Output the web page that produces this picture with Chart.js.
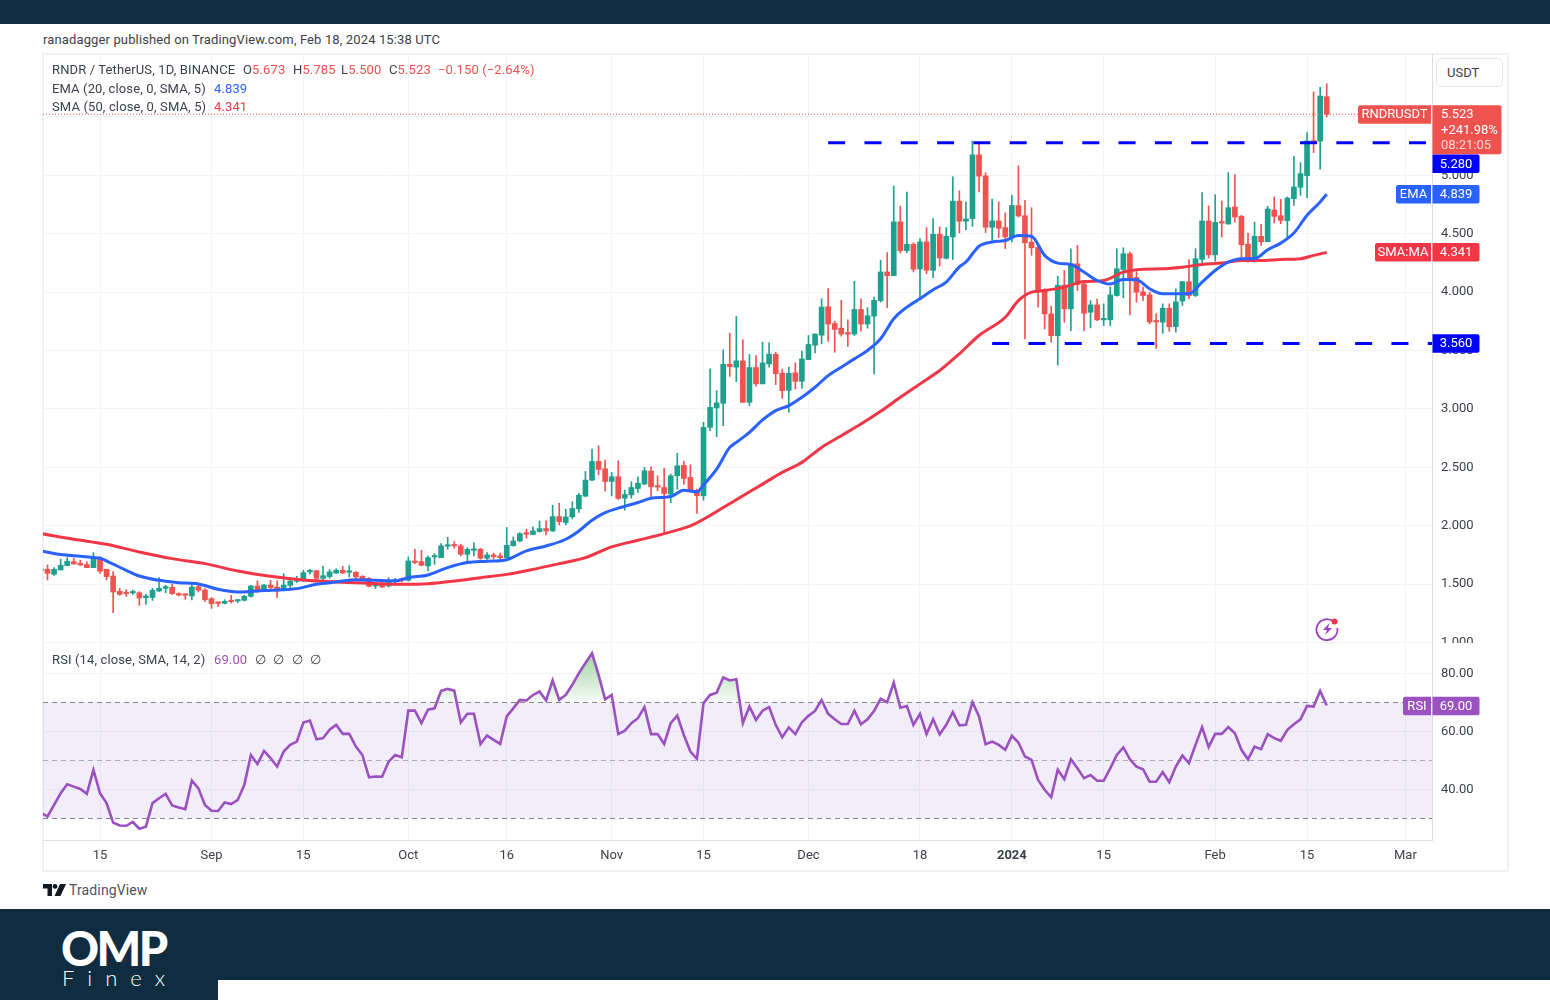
<!DOCTYPE html>
<html>
<head>
<meta charset="utf-8">
<title>RNDR / TetherUS</title>
<script src="https://cdn.jsdelivr.net/npm/chart.js@4/dist/chart.umd.js"></script>
<style>
  html, body { margin: 0; padding: 0; background: #fff; }
  body { width: 1550px; height: 1000px; position: relative; overflow: hidden; font: 13px Roboto, sans-serif; color: #3b3f4a; }
  .abs { position: absolute; white-space: nowrap; line-height: 16px; letter-spacing: 0.13px; }
  #topBar { position: absolute; left: 0; top: 0; width: 1550px; height: 24px; background: #0f2c40; }
  #footBar { position: absolute; left: 0; top: 909px; width: 1550px; height: 91px; background: #0f2c40; }
  #footCut { position: absolute; left: 218px; top: 980px; width: 1332px; height: 20px; background: #fff; }
  #frame { position: absolute; left: 42px; top: 53px; width: 1463px; height: 815px; border: 2px solid #eff1f5; }
  canvas { position: absolute; display: block; }
  #priceChart { left: 43px; top: 54px; }
  #rsiChart { left: 43px; top: 643px; }
  #usdt { position: absolute; left: 1436px; top: 58px; width: 65px; height: 27px; border: 1.5px solid #e6e8ee; border-radius: 5px; background: #fff; line-height: 27px; text-indent: 10px; box-sizing: content-box; }
  .up { color: #ef5350; }
  .logoBig { position: absolute; left: 61px; top: 923px; color: #fff; font: 900 47px/50px Lato, sans-serif; letter-spacing: -2.6px; }
  .logoSmall { position: absolute; left: 62px; top: 965px; color: #fff; font: 300 22px/26px Lato, sans-serif; letter-spacing: 13px; }
</style>
</head>
<body>
<div id="topBar"></div>
<div class="abs" style="left:43px;top:32px">ranadagger published on TradingView.com, Feb 18, 2024 15:38 UTC</div>
<div id="frame"></div>
<canvas id="priceChart" width="1464" height="589" style="width:1464px;height:589px"></canvas>
<canvas id="rsiChart" width="1464" height="227" style="width:1464px;height:227px"></canvas>
<div id="usdt">USDT</div>

<div class="abs" style="left:52px;top:62px">RNDR / TetherUS, 1D, BINANCE</div>
<div class="abs" style="left:243px;top:62px">O<span class="up">5.673</span></div>
<div class="abs" style="left:293px;top:62px">H<span class="up">5.785</span></div>
<div class="abs" style="left:341px;top:62px">L<span class="up">5.500</span></div>
<div class="abs" style="left:389px;top:62px">C<span class="up">5.523</span></div>
<div class="abs up" style="left:438px;top:62px">−0.150 (−2.64%)</div>
<div class="abs" style="left:52px;top:81px">EMA (20, close, 0, SMA, 5)</div>
<div class="abs" style="left:214px;top:81px;color:#2962ff">4.839</div>
<div class="abs" style="left:52px;top:99px">SMA (50, close, 0, SMA, 5)</div>
<div class="abs" style="left:214px;top:99px;color:#f23645">4.341</div>
<div class="abs" style="left:52px;top:652px">RSI (14, close, SMA, 14, 2)</div>
<div class="abs" style="left:214px;top:652px;color:#9b51c0">69.00</div>
<div class="abs" style="left:255px;top:652px;word-spacing:4px">∅ ∅ ∅ ∅</div>

<svg class="abs" style="left:1314px;top:615px" width="28" height="28" viewBox="0 0 28 28">
  <path d="M19.5 6.5 A10.5 10.5 0 1 0 23.3 13" fill="none" stroke="#9b3fc0" stroke-width="1.8"/>
  <path d="M15.5 8 L9 15 L13 15 L11 20 L18 13 L14 13 Z" fill="#9b3fc0"/>
  <circle cx="20.5" cy="6.5" r="3" fill="#f23645"/>
</svg>

<svg class="abs" style="left:43px;top:884px" width="23" height="12" viewBox="0 0 23 12">
  <path d="M0 0 H9 V12 H4.5 V4.5 H0 Z" fill="#131722"/>
  <circle cx="12" cy="2.4" r="2.4" fill="#131722"/>
  <path d="M17 0 H23 L17.5 12 H11.5 Z" fill="#131722"/>
</svg>
<div class="abs" style="left:69px;top:882px;font-size:14px;color:#50535e">TradingView</div>

<div id="footBar"></div>
<div id="footCut"></div>
<div class="logoBig">OMP</div>
<div class="logoSmall">Finex</div>

<script>
// candles, day 0 = Aug 6 2023
const opens = [
  1.630, 1.628, 1.585, 1.622, 1.659, 1.693, 1.679, 1.668, 1.642, 1.722, 1.628, 1.570, 1.439, 1.427, 1.425, 1.427, 1.385, 1.387, 1.442, 1.465,
  1.473, 1.419, 1.410, 1.399, 1.479, 1.450, 1.376, 1.342, 1.336, 1.362, 1.356, 1.362, 1.396, 1.485, 1.448, 1.493, 1.476, 1.448, 1.490, 1.525,
  1.528, 1.605, 1.616, 1.550, 1.565, 1.596, 1.619, 1.602, 1.602, 1.568, 1.548, 1.485, 1.508, 1.485, 1.525, 1.542, 1.533, 1.693, 1.693, 1.656,
  1.733, 1.727, 1.825, 1.836, 1.828, 1.756, 1.790, 1.799, 1.722, 1.750, 1.742, 1.727, 1.830, 1.870, 1.936, 1.925, 1.951, 1.976, 1.956, 2.079,
  2.028, 2.076, 2.145, 2.254, 2.391, 2.551, 2.488, 2.379, 2.420, 2.236, 2.265, 2.319, 2.357, 2.468, 2.339, 2.328, 2.271, 2.428, 2.517, 2.414,
  2.299, 2.257, 2.843, 3.009, 3.049, 3.383, 3.358, 3.412, 3.057, 3.355, 3.215, 3.386, 3.469, 3.306, 3.160, 3.309, 3.237, 3.423, 3.546, 3.632,
  3.875, 3.732, 3.692, 3.646, 3.641, 3.852, 3.727, 3.795, 3.927, 4.173, 4.141, 4.602, 4.356, 4.410, 4.198, 4.430, 4.187, 4.496, 4.290, 4.473,
  4.779, 4.607, 4.630, 5.176, 4.996, 4.556, 4.610, 4.553, 4.473, 4.741, 4.655, 4.429, 4.383, 4.020, 3.814, 3.628, 4.060, 3.857, 4.243, 4.071,
  3.828, 3.891, 3.763, 3.763, 3.971, 4.194, 4.329, 4.126, 4.003, 3.977, 3.754, 3.743, 3.863, 3.705, 3.923, 4.089, 3.971, 4.280, 4.609, 4.320,
  4.600, 4.583, 4.729, 4.649, 4.412, 4.263, 4.478, 4.432, 4.703, 4.655, 4.612, 4.801, 4.898, 4.998, 5.293, 5.293, 5.673
];
const highs = [
  1.650, 1.665, 1.642, 1.714, 1.728, 1.722, 1.705, 1.691, 1.771, 1.734, 1.628, 1.608, 1.465, 1.453, 1.450, 1.436, 1.413, 1.465, 1.556, 1.490,
  1.499, 1.427, 1.419, 1.499, 1.499, 1.462, 1.385, 1.347, 1.367, 1.405, 1.367, 1.405, 1.490, 1.528, 1.499, 1.533, 1.528, 1.591, 1.556, 1.568,
  1.619, 1.628, 1.619, 1.656, 1.625, 1.631, 1.653, 1.659, 1.608, 1.573, 1.556, 1.513, 1.519, 1.556, 1.550, 1.553, 1.733, 1.799, 1.790, 1.742,
  1.762, 1.848, 1.902, 1.865, 1.842, 1.813, 1.856, 1.807, 1.770, 1.767, 1.767, 1.985, 1.905, 1.942, 1.971, 1.991, 2.042, 2.042, 2.176, 2.194,
  2.142, 2.205, 2.277, 2.465, 2.657, 2.686, 2.563, 2.457, 2.557, 2.305, 2.377, 2.420, 2.500, 2.505, 2.428, 2.491, 2.442, 2.620, 2.551, 2.522,
  2.314, 2.886, 3.343, 3.157, 3.506, 3.649, 3.792, 3.592, 3.466, 3.458, 3.572, 3.566, 3.486, 3.343, 3.358, 3.395, 3.495, 3.629, 3.644, 3.944,
  4.030, 3.752, 3.930, 3.764, 4.093, 3.944, 3.867, 3.958, 4.273, 4.339, 4.908, 4.736, 4.856, 4.422, 4.459, 4.553, 4.630, 4.559, 4.553, 4.988,
  4.868, 4.773, 5.294, 5.268, 5.022, 4.796, 4.773, 4.679, 4.830, 5.081, 4.786, 4.723, 4.415, 4.029, 3.880, 4.137, 4.186, 4.372, 4.400, 4.100,
  3.928, 3.940, 3.900, 4.043, 4.372, 4.380, 4.343, 4.177, 4.043, 4.000, 3.814, 3.900, 3.900, 4.029, 4.091, 4.280, 4.372, 4.852, 4.738, 4.835,
  4.781, 5.024, 5.007, 4.658, 4.506, 4.600, 4.580, 4.735, 4.815, 4.795, 4.815, 5.164, 5.110, 5.367, 5.716, 5.753, 5.785
];
const lows = [
  1.600, 1.536, 1.576, 1.622, 1.659, 1.671, 1.659, 1.642, 1.642, 1.593, 1.536, 1.256, 1.405, 1.396, 1.413, 1.319, 1.327, 1.362, 1.436, 1.427,
  1.413, 1.399, 1.370, 1.365, 1.433, 1.350, 1.293, 1.310, 1.330, 1.339, 1.342, 1.356, 1.390, 1.430, 1.442, 1.448, 1.385, 1.442, 1.465, 1.513,
  1.522, 1.585, 1.528, 1.533, 1.550, 1.591, 1.591, 1.562, 1.542, 1.533, 1.476, 1.462, 1.470, 1.476, 1.510, 1.519, 1.527, 1.676, 1.656, 1.613,
  1.670, 1.727, 1.799, 1.807, 1.742, 1.699, 1.742, 1.713, 1.713, 1.716, 1.716, 1.722, 1.825, 1.865, 1.893, 1.922, 1.945, 1.922, 1.951, 2.008,
  2.008, 2.059, 2.114, 2.248, 2.385, 2.437, 2.299, 2.257, 2.225, 2.134, 2.236, 2.285, 2.351, 2.248, 2.299, 1.942, 2.199, 2.314, 2.357, 2.291,
  2.105, 2.219, 2.814, 2.763, 2.857, 3.280, 3.235, 3.057, 3.029, 3.195, 3.215, 3.358, 3.209, 3.092, 2.972, 3.172, 3.177, 3.421, 3.481, 3.558,
  3.578, 3.486, 3.624, 3.535, 3.629, 3.667, 3.692, 3.300, 3.915, 3.867, 4.141, 4.336, 4.339, 4.173, 3.938, 4.158, 4.124, 4.224, 4.284, 4.281,
  4.507, 4.536, 4.564, 4.859, 4.510, 4.444, 4.467, 4.373, 4.430, 4.643, 3.600, 4.315, 3.871, 3.685, 3.571, 3.376, 3.743, 3.671, 4.014, 3.671,
  3.694, 3.757, 3.714, 3.714, 3.966, 3.951, 3.808, 3.914, 3.928, 3.728, 3.519, 3.648, 3.665, 3.657, 3.886, 3.943, 3.963, 4.249, 4.292, 4.266,
  4.472, 4.583, 4.600, 4.300, 4.257, 4.257, 4.400, 4.432, 4.592, 4.586, 4.457, 4.743, 4.829, 4.809, 5.195, 5.052, 5.500
];
const closes = [
  1.615, 1.593, 1.628, 1.662, 1.696, 1.673, 1.665, 1.642, 1.728, 1.611, 1.565, 1.433, 1.413, 1.419, 1.436, 1.382, 1.399, 1.448, 1.465, 1.479,
  1.419, 1.407, 1.405, 1.476, 1.448, 1.367, 1.333, 1.336, 1.353, 1.350, 1.362, 1.396, 1.485, 1.442, 1.493, 1.470, 1.442, 1.493, 1.528, 1.533,
  1.599, 1.619, 1.550, 1.573, 1.605, 1.619, 1.596, 1.608, 1.562, 1.545, 1.482, 1.499, 1.476, 1.528, 1.536, 1.533, 1.699, 1.685, 1.662, 1.727,
  1.742, 1.828, 1.833, 1.828, 1.756, 1.799, 1.799, 1.722, 1.750, 1.736, 1.727, 1.833, 1.870, 1.933, 1.928, 1.956, 1.976, 1.956, 2.079, 2.036,
  2.076, 2.148, 2.262, 2.391, 2.551, 2.482, 2.379, 2.420, 2.234, 2.268, 2.328, 2.365, 2.471, 2.334, 2.331, 2.277, 2.428, 2.514, 2.405, 2.294,
  2.257, 2.843, 3.014, 3.052, 3.383, 3.363, 3.412, 3.057, 3.355, 3.215, 3.395, 3.469, 3.303, 3.157, 3.306, 3.237, 3.429, 3.552, 3.641, 3.872,
  3.727, 3.681, 3.641, 3.641, 3.852, 3.727, 3.798, 3.930, 4.173, 4.141, 4.602, 4.356, 4.410, 4.196, 4.430, 4.187, 4.496, 4.293, 4.479, 4.779,
  4.607, 4.627, 5.176, 4.993, 4.556, 4.610, 4.547, 4.473, 4.742, 4.652, 4.423, 4.380, 4.008, 3.814, 3.628, 4.060, 3.857, 4.243, 4.066, 3.820,
  3.891, 3.763, 3.768, 3.977, 4.200, 4.329, 4.114, 4.000, 3.971, 3.745, 3.745, 3.863, 3.705, 3.917, 4.091, 3.971, 4.286, 4.609, 4.320, 4.598,
  4.592, 4.723, 4.643, 4.406, 4.263, 4.478, 4.432, 4.712, 4.649, 4.615, 4.806, 4.901, 5.015, 5.295, 5.284, 5.679, 5.523
];

// moving averages, read every few days
const emaDays = [
  0, 3, 6, 8, 9, 11, 13, 15, 18, 21, 24, 27, 30, 33, 36, 39, 42, 45, 48, 51,
  54, 56, 59, 62, 65, 68, 71, 74, 77, 80, 82, 84, 86, 88, 91, 93, 96, 98, 100, 101,
  103, 105, 106, 108, 110, 112, 114, 116, 118, 120, 122, 124, 126, 128, 130, 132, 134, 136, 138, 140,
  141, 143, 145, 147, 149, 151, 153, 155, 157, 159, 161, 163, 165, 167, 169, 171, 173, 175, 177, 179,
  181, 183, 185, 187, 189, 191, 193, 195, 196
];
const emaValues = [
  1.785, 1.754, 1.739, 1.728, 1.722, 1.671, 1.619, 1.570, 1.533, 1.513, 1.502, 1.456, 1.433, 1.442, 1.450, 1.462, 1.499, 1.519, 1.539, 1.533,
  1.528, 1.556, 1.579, 1.642, 1.685, 1.696, 1.710, 1.785, 1.827, 1.885, 1.956, 2.048, 2.113, 2.151, 2.199, 2.236, 2.251, 2.305, 2.291, 2.350,
  2.485, 2.671, 2.714, 2.800, 2.906, 2.986, 3.029, 3.100, 3.186, 3.286, 3.358, 3.429, 3.501, 3.601, 3.772, 3.872, 3.944, 4.021, 4.087, 4.216,
  4.258, 4.393, 4.430, 4.443, 4.486, 4.478, 4.315, 4.249, 4.237, 4.172, 4.100, 4.070, 4.109, 4.106, 4.029, 3.986, 3.986, 3.986, 4.086, 4.186,
  4.257, 4.286, 4.286, 4.363, 4.420, 4.506, 4.658, 4.772, 4.839
];
const smaDays = [0, 5, 10, 15, 20, 25, 30, 35, 40, 45, 50, 55, 59, 63, 67, 71, 75, 79, 83, 87, 91, 95, 99, 101, 104, 107, 110, 113, 116, 119, 122, 125, 128, 131, 134, 137, 140, 143, 147, 149, 151, 153, 156, 159, 162, 165, 168, 171, 174, 177, 180, 183, 186, 189, 192, 194, 196];
const smaValues = [1.934, 1.885, 1.842, 1.776, 1.719, 1.676, 1.613, 1.568, 1.536, 1.519, 1.508, 1.499, 1.504, 1.527, 1.556, 1.584, 1.627, 1.676, 1.727, 1.819, 1.876, 1.933, 1.999, 2.056, 2.156, 2.257, 2.357, 2.457, 2.543, 2.671, 2.771, 2.871, 2.980, 3.100, 3.215, 3.329, 3.472, 3.629, 3.785, 3.928, 4.000, 4.014, 4.043, 4.091, 4.100, 4.172, 4.197, 4.200, 4.214, 4.237, 4.249, 4.272, 4.272, 4.280, 4.286, 4.315, 4.341];

const rsiValues = [
  32.0, 30.7, 34.7, 38.7, 41.8, 41.0, 40.2, 38.5, 46.8, 38.7, 35.3, 28.6, 27.6, 27.5, 28.8, 26.5, 27.2, 35.3, 37.0, 38.5,
  34.5, 33.8, 33.2, 43.1, 40.4, 34.7, 32.7, 32.6, 35.5, 35.0, 36.4, 41.6, 51.9, 48.8, 53.3, 50.8, 47.9, 53.1, 55.4, 56.5,
  63.1, 63.8, 57.3, 57.7, 60.6, 62.3, 59.2, 59.2, 54.8, 51.9, 44.2, 44.5, 44.4, 49.6, 51.9, 51.1, 67.2, 67.2, 62.9, 67.5,
  68.0, 74.0, 74.7, 74.1, 63.1, 66.1, 66.1, 55.7, 58.6, 57.1, 55.7, 65.2, 68.0, 70.9, 70.7, 72.6, 73.8, 70.7, 77.6, 70.9,
  72.6, 76.1, 80.1, 83.6, 87.0, 79.5, 71.1, 72.6, 59.1, 60.3, 62.9, 64.6, 68.4, 59.1, 59.1, 55.7, 62.9, 65.5, 58.8, 53.1,
  50.6, 69.8, 72.6, 73.4, 78.6, 77.6, 78.0, 62.9, 68.6, 64.0, 67.2, 68.4, 62.3, 58.0, 61.4, 59.1, 63.2, 65.4, 67.1, 70.9,
  66.1, 64.2, 62.6, 62.6, 67.2, 62.5, 64.2, 67.1, 71.3, 70.1, 76.9, 68.2, 68.8, 62.3, 66.1, 59.1, 64.2, 59.0, 62.3, 66.7,
  62.1, 62.3, 70.1, 65.2, 55.6, 56.5, 55.4, 53.7, 58.5, 56.2, 51.4, 50.2, 43.3, 39.9, 37.3, 46.8, 43.6, 50.4, 47.3, 43.9,
  45.0, 43.0, 43.0, 47.3, 51.9, 54.5, 50.4, 47.9, 47.0, 42.7, 42.7, 46.0, 42.5, 47.9, 51.7, 49.1, 55.4, 61.5, 54.6, 59.2,
  59.2, 61.5, 59.4, 53.7, 50.4, 54.8, 53.9, 59.1, 57.7, 56.8, 60.6, 62.5, 64.2, 68.8, 68.6, 74.0, 69.0
];

const xTickDays   = [9, 26, 40, 56, 71, 87, 101, 117, 134, 148, 162, 179, 193, 208];
const xTickLabels = ['15', 'Sep', '15', 'Oct', '16', 'Nov', '15', 'Dec', '18', '2024', '15', 'Feb', '15', 'Mar'];
const priceTicks  = [1, 1.5, 2, 2.5, 3, 3.5, 4, 4.5, 5, 5.5];
const rsiTicks    = [40, 60, 80];
const rsiLevels   = [70, 50, 30];

const resistance = 5.28, support = 3.56;
const lastClose = 5.523, lastEma = 4.839, lastSma = 4.341, lastRsi = 69.0;
const changeText = '+241.98%', countdownText = '08:21:05';

const GREEN = '#1fa08f', RED = '#ef5350', BLUE = '#2962ff', MA_RED = '#f23645', LEVEL_BLUE = '#0000ff', PURPLE = '#9b51c0';
const GRID = '#f2f4f8', AXIS_LINE = '#dcdfe6', TEXT = '#3b3f4a';
const FONT = { family: 'Roboto, sans-serif', size: 13 };
const X_MIN = 0.31, X_MAX = 212.05;
const days = opens.map((_, i) => i);
const candleColor = ctx => closes[ctx.dataIndex] >= opens[ctx.dataIndex] ? GREEN : RED;

function xScale(showLabels) {
  return {
    type: 'linear', min: X_MIN, max: X_MAX, offset: false,
    afterBuildTicks: s => { s.ticks = xTickDays.map(v => ({ value: v })); },
    afterFit: s => { s.height = showLabels ? 30 : 0; s.paddingLeft = 0; s.paddingRight = 0; },
    grid: { color: GRID, drawTicks: false, offset: false },
    border: { display: showLabels, color: AXIS_LINE },
    ticks: {
      display: showLabels, autoSkip: false, maxRotation: 0, padding: 8, color: TEXT,
      font: ctx => ctx.tick && xTickLabels[xTickDays.indexOf(ctx.tick.value)] === '2024' ? { ...FONT, weight: 'bold' } : FONT,
      callback: v => xTickLabels[xTickDays.indexOf(v)]
    }
  };
}

function yScale(min, max, tickList, format) {
  return {
    position: 'right', min, max,
    afterBuildTicks: s => { s.ticks = tickList.map(v => ({ value: v })); },
    afterFit: s => { s.width = 75; s.paddingTop = 0; s.paddingBottom = 0; },
    grid: { color: GRID, drawTicks: false },
    border: { color: AXIS_LINE },
    ticks: { color: TEXT, font: FONT, padding: 9, callback: format }
  };
}

function drawTag(ctx, x, y, w, h, color, text, radii) {
  ctx.fillStyle = color;
  ctx.beginPath();
  ctx.roundRect(x, y, w, h, radii);
  ctx.fill();
  ctx.fillStyle = '#fff';
  ctx.font = '13px Roboto, sans-serif';
  ctx.textBaseline = 'middle';
  ctx.textAlign = 'center';
  ctx.fillText(text, x + w / 2, y + h / 2 + 0.5);
}

// name + value tag pair at the axis
function axisTag(ctx, axisX, centerY, name, nameW, value, color) {
  if (name) drawTag(ctx, axisX - nameW - 1, centerY - 9.25, nameW, 18.5, color, name, [2, 0, 0, 2]);
  drawTag(ctx, axisX + 0.5, centerY - 9.25, 47, 18.5, color, value, [0, 2, 2, 0]);
}

const priceTags = {
  id: 'priceTags',
  afterDraw(chart) {
    const { ctx, scales: { y } } = chart;
    const ax = y.left;
    const top = y.getPixelForValue(lastClose) - 9;
    ctx.save();
    drawTag(ctx, ax - 74, top, 73, 18.5, RED, 'RNDRUSDT', [2, 0, 0, 2]);
    ctx.fillStyle = RED;
    ctx.beginPath();
    ctx.roundRect(ax + 0.5, top, 69, 49, [0, 2, 2, 0]);
    ctx.fill();
    ctx.font = '13px Roboto, sans-serif';
    ctx.textBaseline = 'middle';
    ctx.textAlign = 'left';
    ctx.fillStyle = '#fff';
    ctx.fillText(lastClose.toFixed(3), ax + 9, top + 9.5);
    ctx.fillText(changeText, ax + 9, top + 25);
    ctx.fillStyle = '#fbd5d4';
    ctx.fillText(countdownText, ax + 9, top + 40.5);
    axisTag(ctx, ax, top + 58.5, null, 0, resistance.toFixed(3), LEVEL_BLUE);
    axisTag(ctx, ax, y.getPixelForValue(lastEma), 'EMA', 35, lastEma.toFixed(3), BLUE);
    axisTag(ctx, ax, y.getPixelForValue(lastSma), 'SMA:MA', 56, lastSma.toFixed(3), MA_RED);
    axisTag(ctx, ax, y.getPixelForValue(support), null, 0, support.toFixed(3), LEVEL_BLUE);
    ctx.restore();
  }
};

const rsiTags = {
  id: 'rsiTags',
  afterDraw(chart) {
    const { ctx, scales: { y } } = chart;
    ctx.save();
    axisTag(ctx, y.left, y.getPixelForValue(lastRsi) + 0.5, 'RSI', 28, lastRsi.toFixed(2), PURPLE);
    ctx.restore();
  }
};

const baseOptions = {
  responsive: false, animation: false, devicePixelRatio: 1,
  layout: { padding: 0 },
  plugins: { legend: { display: false }, tooltip: { enabled: false } },
  events: []
};

const maLine = (label, xs, ys, color, order) => ({
  type: 'line', label, data: xs.map((d, i) => ({ x: d, y: ys[i] })),
  borderColor: color, borderWidth: 3, pointRadius: 0, cubicInterpolationMode: 'monotone', order
});
const priceLevel = (label, fromDay, value) => ({
  type: 'line', label, data: [{ x: fromDay, y: value }, { x: X_MAX, y: value }],
  borderColor: LEVEL_BLUE, borderWidth: 3, borderDash: [17, 19.3], pointRadius: 0, order: 0
});

new Chart(document.getElementById('priceChart'), {
  type: 'bar',
  data: {
    datasets: [
      maLine('EMA', emaDays, emaValues, BLUE, 1),
      maLine('SMA', smaDays, smaValues, MA_RED, 2),
      { label: 'Body', data: days.map(d => ({ x: d, y: [opens[d], closes[d]] })), backgroundColor: candleColor, barThickness: 5, minBarLength: 1.5, grouped: false, borderWidth: 0, order: 4 },
      { label: 'Wick', data: days.map(d => ({ x: d, y: [lows[d], highs[d]] })), backgroundColor: candleColor, barThickness: 1, grouped: false, borderWidth: 0, order: 5 },
      priceLevel('Resistance', 120, resistance),
      priceLevel('Support', 145, support),
      { type: 'line', label: 'Last', data: [{ x: X_MIN, y: lastClose }, { x: X_MAX, y: lastClose }], borderColor: RED, borderWidth: 1, borderDash: [1, 2], pointRadius: 0, order: 3 }
    ]
  },
  options: {
    ...baseOptions,
    scales: {
      x: xScale(false),
      y: yScale(0.9966, 6.039, priceTicks, v => v.toFixed(3))
    }
  },
  plugins: [priceTags]
});

const rsiCanvas = document.getElementById('rsiChart');
const obGradient = rsiCanvas.getContext('2d').createLinearGradient(0, 8, 0, 60);
obGradient.addColorStop(0, 'rgba(76,175,80,0.55)');
obGradient.addColorStop(1, 'rgba(76,175,80,0.04)');

const levelLine = (value, color) => ({
  type: 'line', data: [{ x: X_MIN, y: value }, { x: X_MAX, y: value }],
  borderColor: color, borderWidth: 1, borderDash: [5, 4], pointRadius: 0, fill: false, order: 2
});

new Chart(rsiCanvas, {
  type: 'line',
  data: {
    datasets: [
      { ...levelLine(rsiLevels[0], '#85878f'), fill: { target: 1 }, backgroundColor: 'rgba(126,87,194,0.1)' },
      levelLine(rsiLevels[2], '#85878f'),
      levelLine(rsiLevels[1], '#b4b6bc'),
      {
        label: 'RSI', data: days.map(d => ({ x: d, y: rsiValues[d] })), borderColor: PURPLE, borderWidth: 2.6, pointRadius: 0, order: 1,
        fill: { target: { value: rsiLevels[0] }, above: obGradient, below: 'rgba(0,0,0,0)' }
      }
    ]
  },
  options: {
    ...baseOptions,
    scales: {
      x: xScale(true),
      y: yScale(22.59, 90.52, rsiTicks, v => v.toFixed(2))
    }
  },
  plugins: [rsiTags]
});
</script>
</body>
</html>
